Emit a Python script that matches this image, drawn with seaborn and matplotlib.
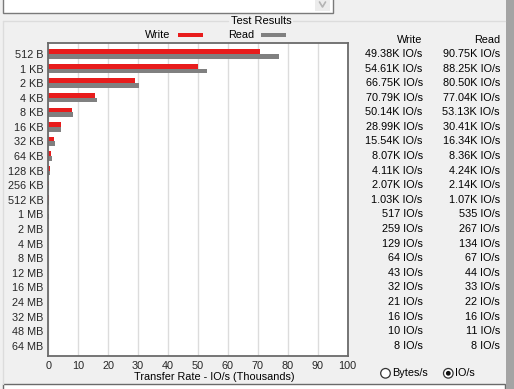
"""
Recreate the 'Test Results' IO/s panel (disk benchmark screenshot) with seaborn.
Output: out.png, 514x389 px.
"""

import numpy as np
import pandas as pd
import matplotlib.pyplot as plt
import matplotlib.patches as mpatches
import matplotlib.lines as mlines
import matplotlib.transforms as mtransforms
import seaborn as sns

SIZES = ["512 B", "1 KB", "2 KB", "4 KB", "8 KB", "16 KB", "32 KB", "64 KB",
         "128 KB", "256 KB", "512 KB", "1 MB", "2 MB", "4 MB", "8 MB",
         "12 MB", "16 MB", "24 MB", "32 MB", "48 MB", "64 MB"]

# bar lengths as drawn in the chart (thousands of IO/s)
WRITE_BARS = [70.79, 50.14, 28.99, 15.54, 8.07, 4.11, 2.07, 1.03, 0.517, 0.259,
              0.129, 0.064, 0.043, 0.032, 0.021, 0.016, 0.010, 0.008, 0, 0, 0]
READ_BARS = [77.04, 53.13, 30.41, 16.34, 8.36, 4.24, 2.14, 1.07, 0.535, 0.267,
             0.134, 0.067, 0.044, 0.033, 0.022, 0.016, 0.011, 0.008, 0, 0, 0]

# table on the right
WRITE_TEXT = ["49.38K", "54.61K", "66.75K", "70.79K", "50.14K", "28.99K", "15.54K",
              "8.07K", "4.11K", "2.07K", "1.03K", "517", "259", "129", "64", "43",
              "32", "21", "16", "10", "8"]
READ_TEXT = ["90.75K", "88.25K", "80.50K", "77.04K", "53.13K", "30.41K", "16.34K",
             "8.36K", "4.24K", "2.14K", "1.07K", "535", "267", "134", "67", "44",
             "33", "22", "16", "11", "8"]

XTICKS = list(range(0, 101, 10))

RED = "#e81c1c"
GRAY = "#808080"
BG = "#f0f0f0"
DARK = "#6a6a6a"
LIGHT = "#dcdcdc"

W, H = 514, 389


def P(x, y):
    """pixel (top-left origin) -> inches for dpi_scale_trans"""
    return x / 100, (H - y) / 100


sns.set_theme(style="white")
plt.rcParams["font.family"] = ["Liberation Sans", "DejaVu Sans"]
plt.rcParams["font.size"] = 7.8
plt.rcParams["text.color"] = "black"

df = pd.DataFrame({
    "size": SIZES * 2,
    "rate": WRITE_BARS + READ_BARS,
    "kind": ["Write"] * len(SIZES) + ["Read"] * len(SIZES),
})

fig = plt.figure(figsize=(W / 100, H / 100), dpi=100)
fig.patch.set_facecolor(BG)
T = fig.dpi_scale_trans

# --- window chrome ---
fig.add_artist(mpatches.Rectangle(P(3.3, 13), (333 - 3.3) / 100, 0.15,
                                  transform=T, facecolor="white", edgecolor="#7a7a7a", lw=1))
fig.add_artist(mpatches.Rectangle(P(315, 11), 0.15, 0.12,
                                  transform=T, facecolor="#ececec", edgecolor="none"))
fig.add_artist(mlines.Line2D([3.195, 3.225, 3.255], [3.87, 3.82, 3.87],
                             transform=T, color="#b4b4b4", lw=1.2))
# group box
fig.add_artist(mlines.Line2D([0.033, 2.28], [(H - 21.3) / 100] * 2, transform=T, color=LIGHT, lw=1))
fig.add_artist(mlines.Line2D([2.93, 5.05], [(H - 21.3) / 100] * 2, transform=T, color=LIGHT, lw=1))
fig.add_artist(mlines.Line2D([0.033, 0.033], [(H - 21.3) / 100, (H - 384) / 100],
                             transform=T, color=LIGHT, lw=1))
# bottom box + scroll strip
fig.add_artist(mpatches.Rectangle(P(3.3, 392), (505 - 3.3) / 100, 0.08,
                                  transform=T, facecolor="white", edgecolor=DARK, lw=1))
fig.add_artist(mpatches.Rectangle(P(506, 389), 0.08, 3.89,
                                  transform=T, facecolor="#a4a4a4", edgecolor="none"))

fig.text(*P(261.5, 21.5), "Test Results", transform=T, ha="center", va="center", fontsize=8)

# legend
fig.text(*P(170, 34.5), "Write", transform=T, ha="right", va="center")
fig.add_artist(mpatches.Rectangle(P(178, 36.7), 0.25, 0.042, transform=T,
                                  facecolor=RED, edgecolor="none"))
fig.text(*P(254, 34.5), "Read", transform=T, ha="right", va="center")
fig.add_artist(mpatches.Rectangle(P(261, 36.7), 0.25, 0.042, transform=T,
                                  facecolor=GRAY, edgecolor="none"))

# --- chart ---
ax = fig.add_axes([48.3 / W, 1 - 355.7 / H, 299.4 / W, 312.4 / H])
sns.barplot(data=df, x="rate", y="size", hue="kind", order=SIZES,
            hue_order=["Write", "Read"], palette=[RED, GRAY], width=0.65,
            saturation=1, linewidth=0, legend=False, orient="h", ax=ax)
ax.set_facecolor("white")
ax.set_xlim(0, 100)
ax.set_ylim(20.68, -0.73)
ax.set_xticks(XTICKS)
ax.set_xticklabels([str(t) for t in XTICKS])
ax.grid(axis="x", color=LIGHT, lw=1)
ax.grid(axis="y", visible=False)
ax.set_axisbelow(True)
ax.tick_params(axis="both", length=0, labelsize=7.8)
ax.tick_params(axis="x", pad=3.5)
ax.tick_params(axis="y", pad=3.5)
ax.set_xlabel("")
ax.set_ylabel("")
for sp in ax.spines.values():
    sp.set_visible(True)
    sp.set_color(DARK)
    sp.set_linewidth(1.3)
    sp.set_zorder(5)

fig.text(*P(213.8, 377), "Transfer Rate - IO/s (Thousands)", transform=T,
         ha="center", va="center")

# --- table on the right, rows aligned to the bar rows ---
tr = mtransforms.blended_transform_factory(fig.transFigure, ax.transData)
fig.text(*P(422.7, 40), "Write", transform=T, ha="right", va="center")
fig.text(*P(500, 40), "Read", transform=T, ha="right", va="center")
for i, (w, r) in enumerate(zip(WRITE_TEXT, READ_TEXT)):
    fig.text(422.7 / W, i, f"{w} IO/s", transform=tr, ha="right", va="center")
    fig.text(500 / W, i, f"{r} IO/s", transform=tr, ha="right", va="center")

# radio buttons
fig.add_artist(mpatches.Circle(P(385.5, 373.3), 0.048, transform=T,
                               facecolor="white", edgecolor="#333333", lw=0.9))
fig.text(*P(392, 373.5), "Bytes/s", transform=T, ha="left", va="center")
fig.add_artist(mpatches.Circle(P(448.3, 373.3), 0.048, transform=T,
                               facecolor="white", edgecolor="#333333", lw=0.9))
fig.add_artist(mpatches.Circle(P(448.3, 373.3), 0.024, transform=T,
                               facecolor="#111111", edgecolor="none"))
fig.text(*P(455, 373.5), "IO/s", transform=T, ha="left", va="center")

fig.savefig("out.png", dpi=100, facecolor=BG)
